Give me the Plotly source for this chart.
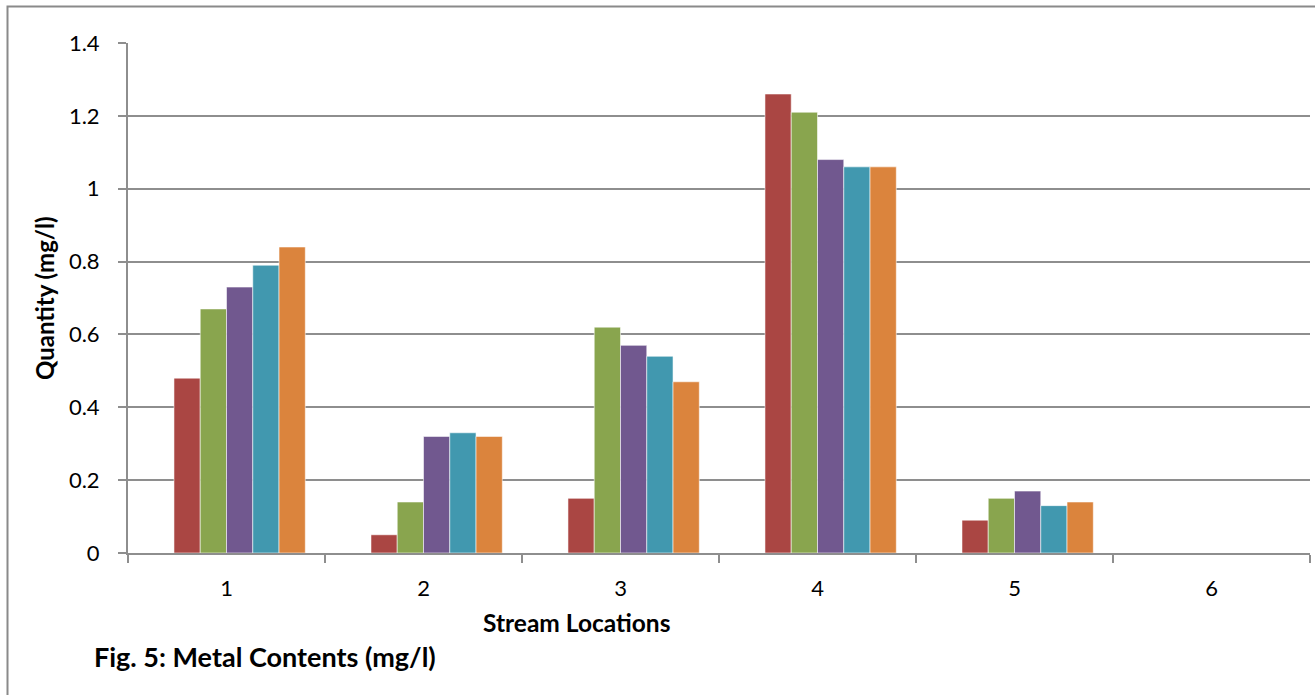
import plotly.graph_objects as go

# Stream locations (categories) and metal contents per series (mg/l)
locations = ["1", "2", "3", "4", "5", "6"]
series_red = [0.48, 0.05, 0.15, 1.26, 0.09, None]
series_green = [0.67, 0.14, 0.62, 1.21, 0.15, None]
series_purple = [0.73, 0.32, 0.57, 1.08, 0.17, None]
series_teal = [0.79, 0.33, 0.54, 1.06, 0.13, None]
series_orange = [0.84, 0.32, 0.47, 1.06, 0.14, None]

y_ticks = [0, 0.2, 0.4, 0.6, 0.8, 1.0, 1.2, 1.4]
y_tick_text = ["0", "0.2", "0.4", "0.6", "0.8", "1", "1.2", "1.4"]

W, H = 1315, 695
FONT = "Lato, 'Open Sans', sans-serif"
GRID = "#8e8e8e"

series = [
    (series_red, "#aa4643"),
    (series_green, "#89a54e"),
    (series_purple, "#71588f"),
    (series_teal, "#4198af"),
    (series_orange, "#db843d"),
]

# clustered layout: six slots per group (first slot empty), gap 150% of a bar
slots = 6
bar_w = 1.0 / (slots + 1.5)
start = -0.5 + 0.75 * bar_w

fig = go.Figure()
for i, (vals, col) in enumerate(series):
    fig.add_trace(go.Bar(
        x=locations, y=vals,
        width=bar_w,
        offset=start + (i + 1) * bar_w,
        marker=dict(color=col, line=dict(color="rgba(255,255,255,0.55)", width=1)),
        showlegend=False,
        hoverinfo="x+y",
    ))

x0, x1 = 128 / W, 1310 / W
y0, y1 = (H - 553) / H, (H - 43) / H

fig.update_layout(
    width=W, height=H,
    margin=dict(l=0, r=0, t=0, b=0, autoexpand=False),
    paper_bgcolor="white", plot_bgcolor="white",
    barmode="overlay",
    font=dict(family=FONT, color="#000000"),
    xaxis=dict(
        domain=[x0, x1],
        automargin=False,
        type="category",
        categoryorder="array", categoryarray=locations,
        range=[-0.5, len(locations) - 0.5],
        showline=True, linecolor=GRID, linewidth=2,
        ticks="outside", tickson="boundaries", ticklen=8, tickwidth=2, tickcolor=GRID,
        tickfont=dict(size=22, family=FONT),
        ticklabelstandoff=15,
        showgrid=False, zeroline=False,
    ),
    yaxis=dict(
        domain=[y0, y1],
        automargin=False,
        range=[0, 1.4],
        tickvals=y_ticks, ticktext=y_tick_text,
        showline=True, linecolor=GRID, linewidth=2,
        ticks="outside", ticklen=8, tickwidth=2, tickcolor=GRID,
        tickfont=dict(size=22, family=FONT),
        ticklabelstandoff=14,
        showgrid=True, gridcolor=GRID, gridwidth=2,
        zeroline=False,
    ),
    annotations=[
        dict(text="<b>Quantity (mg/l)</b>", xref="paper", yref="paper",
             x=45 / W, y=(H - 298) / H, textangle=-90, showarrow=False,
             font=dict(size=24, family=FONT), xanchor="center", yanchor="middle"),
        dict(text="<b>Stream Locations</b>", xref="paper", yref="paper",
             x=576 / W, y=(H - 622) / H, showarrow=False,
             font=dict(size=24.5, family=FONT), xanchor="center", yanchor="middle"),
        dict(text="<b>Fig. 5: Metal Contents (mg/l)</b>", xref="paper", yref="paper",
             x=92 / W, y=(H - 656) / H, showarrow=False,
             font=dict(size=27, family=FONT), xanchor="left", yanchor="middle"),
    ],
    shapes=[
        dict(type="rect", xref="paper", yref="paper",
             x0=7.5 / W, x1=1.02, y0=-0.02, y1=(H - 6.5) / H,
             line=dict(color="#8a8a8a", width=2), fillcolor="rgba(0,0,0,0)", layer="below"),
    ],
)

fig.write_html("out.html")
